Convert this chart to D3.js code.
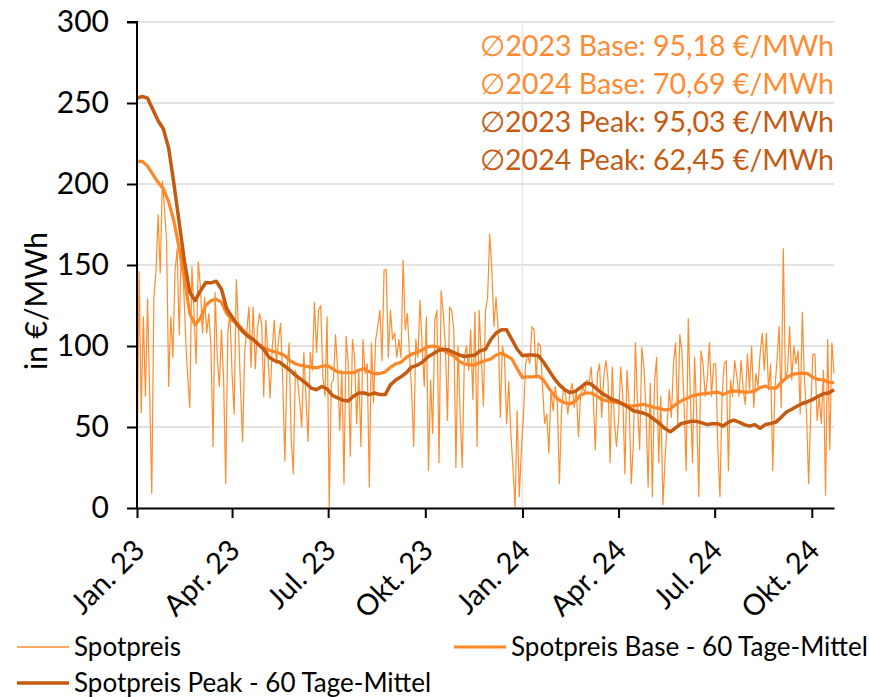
<!DOCTYPE html>
<html>
<head>
<meta charset="utf-8">
<script src="https://cdn.jsdelivr.net/npm/d3@7"></script>
<style>
  body { margin: 0; background: #fff; }
  svg { display: block; font-family: Lato, "Noto Sans", sans-serif; }
</style>
</head>
<body>
<div id="chart"></div>
<script>
// Daily spot price, one value every 2 days starting 1 Jan 2023 (€/MWh)
const spotStep = 2;
const spot = [
  15,146,59,118,69,129,71,9,130,146,
  181,145,202,185,165,75,118,93,146,160,
  107,163,140,106,81,62,149,120,89,152,
  137,108,130,108,120,100,38,133,93,75,
  110,80,15,108,120,83,58,141,112,75,
  41,97,110,
  124,87,124,86,110,120,114,69,116,94,
  68,98,116,89,104,114,79,29,85,102,
  43,21,85,79,66,50,96,68,41,96,
  85,127,96,122,125,81,69,118,0,77,
  79,107,85,48,85,15,106,89,32,104,
  94,52,85,38,104,83,89,13,
  102,65,104,112,122,91,147,147,93,122,
  104,108,93,104,93,153,110,120,95,73,
  38,104,93,128,100,75,118,23,79,46,
  116,122,28,134,120,100,54,124,122,110,
  25,100,58,25,93,100,85,110,67,121,
  38,122,93,63,
  122,130,169,147,112,130,110,56,100,93,
  52,78,46,25,0,60,7,36,58,89,
  95,89,112,110,80,102,100,75,52,58,
  34,73,60,75,65,15,60,75,69,58,
  71,77,62,73,44,69,75,71,79,77,
  87,69,36,83,
  89,56,81,91,79,28,87,54,38,54,
  87,69,21,85,64,15,40,102,62,36,
  99,87,60,13,77,7,77,93,28,69,
  2,30,52,73,56,89,102,52,107,97,
  64,23,117,69,28,93,58,7,97,89,
  69,79,102,69,89,
  89,38,7,69,89,91,23,79,69,91,
  81,69,91,73,64,95,73,100,62,83,
  75,95,108,85,108,73,89,23,73,91,
  112,62,160,79,85,112,79,100,89,97,
  58,121,79,58,15,60,95,95,54,69,
  52,85,8,104,36,102,83
];

// 60-day moving averages, one value every 5 days
const avgStep = 5;
const baseAvg = [
  214,214,211,206,201,197,189,177,160,141,
  120,113,117,125,128,129,127,120,116,114,
  110,107,104,101,99,97.5,96.5,95.5,94,91,
  89,88,87.5,87,86.5,87.5,88,86,84,83.5,
  83.5,83.5,85,86,84,83,83,84,87,89,
  90,93,95,96,97.5,99.5,100,99.5,97.5,95.5,
  94,90.5,89,88.4,88.4,90,91,92,94.5,95.5,
  94,92,86,80.5,81,81,81.5,79,74,69.5,
  66.5,65,64.2,66,69.5,71,71,69.3,67,66.2,
  65.5,65,64.5,63,63,63.5,64,63,62,61.5,
  60.5,61,64,66,67.5,69,70,70.4,70.8,71.2,
  71.5,70,71.5,72.3,72,71.5,71.5,72.3,74.3,75.3,
  74,74,77.4,80.4,82.3,83,83.3,83,80.5,79.4,
  79,77.5,77.4
];
const peakAvg = [
  253,254,253,246,239,234,222,200,176,152,
  133,128,134,139,139,140,135,123,118,113,
  109,106,104,101,98,93,91,90,87.5,85,
  82,79.5,77,74,73,75,73.5,69.5,68,66.5,
  66,69,71,71,70,71,70,70,76,79,
  81,83.5,87,88,90,93,95,97,98,97.5,
  96,94.5,93.5,94,94.5,97,98,104,108,110,
  110,104,98,94,94.4,94.5,94,90,85,80,
  76,73,71.2,72,74.5,77,76.5,73.7,71,69,
  67,66,64,62.3,60,59.3,58.5,57,54.5,52,
  49,47,49.5,52,52.8,53.5,53.5,52.5,51.5,52,
  52,50.6,53,54.2,53,51.5,50.5,51.5,49.2,51.5,
  52.2,53,56,59.3,61,62.8,64.5,65.6,67,69,
  70.5,71,73
];

const tickDates = ["2023-01-01","2023-04-01","2023-07-01","2023-10-01",
                   "2024-01-01","2024-04-01","2024-07-01","2024-10-01"];
const tickLabels = ["Jan. 23","Apr. 23","Jul. 23","Okt. 23",
                    "Jan. 24","Apr. 24","Jul. 24","Okt. 24"];
const yTicks = [0, 50, 100, 150, 200, 250, 300];

const notes = [
  { text: "\u22052023 Base: 95,18 €/MWh", kind: "base" },
  { text: "\u22052024 Base: 70,69 €/MWh", kind: "base" },
  { text: "\u22052023 Peak: 95,03 €/MWh", kind: "peak" },
  { text: "\u22052024 Peak: 62,45 €/MWh", kind: "peak" }
];

const colSpot = "#ff8c2e", colBase = "#ff8728", colPeak = "#c55a11";

const W = 869, H = 697;
const margin = { top: 22, right: 35, bottom: 189, left: 137 };
const width = W - margin.left - margin.right,
      height = H - margin.top - margin.bottom;

const start = new Date(Date.UTC(2023, 0, 1));
const end = new Date(Date.UTC(2024, 9, 22));

const svg = d3.select("#chart").append("svg")
    .attr("width", W)
    .attr("height", H);
const g = svg.append("g")
    .attr("transform", `translate(${margin.left},${margin.top})`);

const x = d3.scaleUtc().domain([start, end]).range([0, width]);
const y = d3.scaleLinear().domain([0, 300]).range([height, 0]);

const dayAt = (i, step) => d3.utcDay.offset(start, i * step);

// Gridlines
g.append("g").selectAll("line")
  .data(yTicks.filter(d => d > 0))
  .enter().append("line")
  .attr("x1", 0).attr("x2", width)
  .attr("y1", d => y(d)).attr("y2", d => y(d))
  .attr("stroke", "#d9d9d9").attr("stroke-width", 1.5);

g.append("line")
  .attr("x1", x(new Date(Date.UTC(2024, 0, 1)))).attr("x2", x(new Date(Date.UTC(2024, 0, 1))))
  .attr("y1", 0).attr("y2", height)
  .attr("stroke", "#e6e6e6").attr("stroke-width", 1.5);

// Annotations
g.append("g").selectAll("text")
  .data(notes)
  .enter().append("text")
  .attr("x", width)
  .attr("y", (d, i) => 34 + i * 38)
  .attr("text-anchor", "end")
  .attr("font-size", 28.5)
  .attr("fill", d => d.kind === "base" ? "#ff8b33" : colPeak)
  .text(d => d.text);

// Lines
const lineSpot = d3.line()
  .x((d, i) => x(dayAt(i, spotStep)))
  .y(d => y(d));
const lineAvg = d3.line()
  .x((d, i) => x(dayAt(i, avgStep)))
  .y(d => y(d));

g.append("path").datum(spot)
  .attr("fill", "none").attr("stroke", colSpot)
  .attr("stroke-width", 1.2).attr("stroke-linejoin", "round")
  .attr("d", lineSpot);

g.append("path").datum(baseAvg)
  .attr("fill", "none").attr("stroke", colBase)
  .attr("stroke-width", 3.2).attr("stroke-linejoin", "round")
  .attr("d", lineAvg);

g.append("path").datum(peakAvg)
  .attr("fill", "none").attr("stroke", colPeak)
  .attr("stroke-width", 3.5).attr("stroke-linejoin", "round")
  .attr("d", lineAvg);

// Axes
const yAxis = g.append("g")
  .call(d3.axisLeft(y).tickValues(yTicks).tickSize(10).tickPadding(18));
yAxis.select(".domain").attr("stroke", "#000").attr("stroke-width", 2)
  .attr("d", `M0,${height}V0H-10`);
yAxis.selectAll(".tick line").attr("stroke-width", 2);
yAxis.selectAll(".tick text").attr("font-size", 30).attr("font-family", "Lato").attr("fill", "#000");

const xAxis = g.append("g")
  .attr("transform", `translate(0,${height})`)
  .call(d3.axisBottom(x)
    .tickValues(tickDates.map(d => new Date(d + "T00:00:00Z")))
    .tickFormat((d, i) => tickLabels[i])
    .tickSize(10).tickSizeOuter(0));
xAxis.select(".domain").attr("stroke", "#000").attr("stroke-width", 2);
xAxis.selectAll(".tick line").attr("stroke-width", 2);
xAxis.selectAll(".tick text")
  .attr("font-size", 29).attr("font-family", "Lato").attr("fill", "#000")
  .attr("text-anchor", "end")
  .attr("dy", null).attr("y", null)
  .attr("transform", "translate(9,44) rotate(-45)");

// Y axis title
svg.append("text")
  .attr("transform", `translate(47,301) rotate(-90)`)
  .attr("text-anchor", "middle")
  .attr("font-size", 30)
  .attr("fill", "#000")
  .text("in €/MWh");

// Legend
const legendItems = [
  { label: "Spotpreis", color: colSpot, w: 1.3, x: 17, y: 647 },
  { label: "Spotpreis Base - 60 Tage-Mittel", color: colBase, w: 3.2, x: 454, y: 647 },
  { label: "Spotpreis Peak - 60 Tage-Mittel", color: colPeak, w: 3.5, x: 17, y: 683 }
];
const leg = svg.append("g").selectAll("g")
  .data(legendItems)
  .enter().append("g")
  .attr("transform", d => `translate(${d.x},${d.y})`);
leg.append("line")
  .attr("x1", 0).attr("x2", 52).attr("y1", 0).attr("y2", 0)
  .attr("stroke", d => d.color).attr("stroke-width", d => d.w);
leg.append("text")
  .attr("x", 57).attr("y", 9)
  .attr("font-size", 26).attr("fill", "#000")
  .text(d => d.label);
</script>
</body>
</html>
